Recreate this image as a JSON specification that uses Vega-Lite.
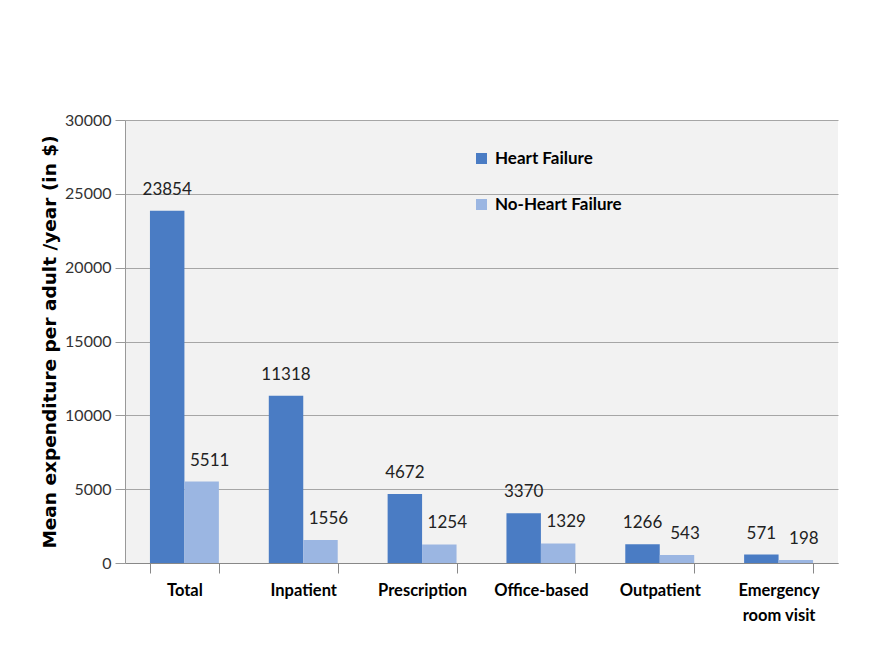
{
  "$schema": "https://vega.github.io/schema/vega-lite/v6.json",
  "width": 713,
  "height": 443,
  "autosize": {"type": "none"},
  "padding": {"left": 125, "top": 120, "right": 48, "bottom": 106},
  "background": "white",
  "config": {
    "view": {"fill": "#f2f2f2", "stroke": null},
    "font": "Lato"
  },
  "data": {
    "values": [
      {"category": "Total", "group": "Heart Failure", "value": 23854},
      {"category": "Total", "group": "No-Heart Failure", "value": 5511},
      {"category": "Inpatient", "group": "Heart Failure", "value": 11318},
      {"category": "Inpatient", "group": "No-Heart Failure", "value": 1556},
      {"category": "Prescription", "group": "Heart Failure", "value": 4672},
      {"category": "Prescription", "group": "No-Heart Failure", "value": 1254},
      {"category": "Office-based", "group": "Heart Failure", "value": 3370},
      {"category": "Office-based", "group": "No-Heart Failure", "value": 1329},
      {"category": "Outpatient", "group": "Heart Failure", "value": 1266},
      {"category": "Outpatient", "group": "No-Heart Failure", "value": 543},
      {"category": "Emergency room visit", "group": "Heart Failure", "value": 571},
      {"category": "Emergency room visit", "group": "No-Heart Failure", "value": 198}
    ]
  },
  "encoding": {
    "x": {
      "field": "category",
      "type": "nominal",
      "sort": null,
      "scale": {"paddingInner": 0.42, "paddingOuter": 0.21},
      "axis": {
        "title": null,
        "labelAngle": 0,
        "labelFont": "Lato",
        "labelFontWeight": "bold",
        "labelFontSize": 16.5,
        "labelColor": "black",
        "labelPadding": 9,
        "labelLineHeight": 25,
        "labelExpr": "datum.label == 'Emergency room visit' ? ['Emergency', 'room visit'] : datum.label",
        "tickBand": "extent",
        "tickSize": 10,
        "tickColor": "#888888",
        "domainColor": "#888888",
        "grid": false
      }
    },
    "xOffset": {"field": "group", "type": "nominal", "sort": ["Heart Failure", "No-Heart Failure"]},
    "y": {
      "field": "value",
      "type": "quantitative",
      "scale": {"domain": [0, 30000]},
      "axis": {
        "title": "Mean expenditure per adult /year (in $)",
        "titleFont": "DejaVu Sans",
        "titleFontWeight": "bold",
        "titleFontSize": 18.5,
        "titleColor": "black",
        "titleX": -66,
        "values": [0, 5000, 10000, 15000, 20000, 25000, 30000],
        "format": "d",
        "labelFont": "Lato",
        "labelFontSize": 16,
        "labelColor": "#333333",
        "labelPadding": 4,
        "tickSize": 10,
        "tickColor": "#999999",
        "domainColor": "#999999",
        "gridColor": "#a6a6a6",
        "gridWidth": 1.2
      }
    }
  },
  "layer": [
    {
      "mark": {"type": "bar"},
      "encoding": {
        "color": {
          "field": "group",
          "type": "nominal",
          "sort": ["Heart Failure", "No-Heart Failure"],
          "scale": {"range": ["#4a7cc4", "#9bb6e2"]},
          "legend": {
            "title": null,
            "orient": "none",
            "legendX": 348,
            "legendY": 30,
            "symbolType": "square",
            "symbolSize": 121,
            "symbolStrokeWidth": 0,
            "labelFont": "Lato",
            "labelFontWeight": "bold",
            "labelFontSize": 17,
            "labelColor": "black",
            "labelOffset": 5,
            "rowPadding": 28
          }
        }
      }
    },
    {
      "transform": [{"filter": "datum.group == 'Heart Failure'"}],
      "mark": {"type": "text", "baseline": "bottom", "dy": -12, "fontSize": 17, "font": "Lato", "color": "#222222"},
      "encoding": {"text": {"field": "value", "type": "quantitative", "format": "d"}}
    },
    {
      "transform": [{"filter": "datum.group == 'No-Heart Failure'"}],
      "mark": {"type": "text", "baseline": "bottom", "dy": -12, "dx": 8, "fontSize": 17, "font": "Lato", "color": "#222222"},
      "encoding": {"text": {"field": "value", "type": "quantitative", "format": "d"}}
    }
  ]
}
